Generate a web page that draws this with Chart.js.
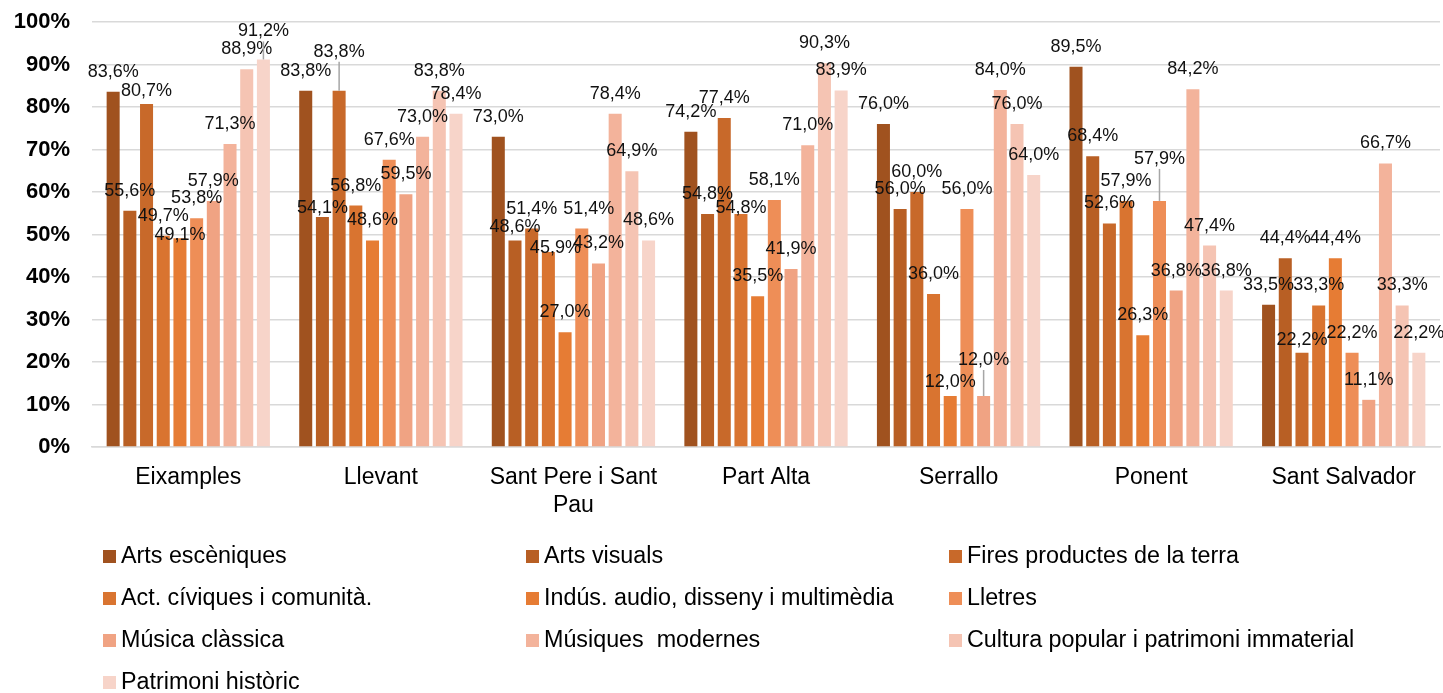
<!DOCTYPE html>
<html>
<head>
<meta charset="utf-8">
<script src="https://cdn.jsdelivr.net/npm/chart.js@4/dist/chart.umd.min.js"></script>
<style>
html,body{margin:0;padding:0;background:#fff;}
#wrap{width:1443px;height:693px;position:relative;}
</style>
</head>
<body>
<div id="wrap"><canvas id="c" width="1443" height="693"></canvas></div>
<script>
const categories = ['Eixamples','Llevant','Sant Pere i Sant Pau','Part Alta','Serrallo','Ponent','Sant Salvador'];
const yTicks = [0,10,20,30,40,50,60,70,80,90,100];
const seriesNames = ['Arts escèniques','Arts visuals','Fires productes de la terra','Act. cíviques i comunità.','Indús. audio, disseny i multimèdia','Lletres','Música clàssica','Músiques  modernes','Cultura popular i patrimoni immaterial','Patrimoni històric'];
const artsEscen  = [83.6,83.8,73.0,74.2,76.0,89.5,33.5];
const artsVisual = [55.6,54.1,48.6,54.8,56.0,68.4,44.4];
const fires      = [80.7,83.8,51.4,77.4,60.0,52.6,22.2];
const actCiv     = [49.7,56.8,45.9,54.8,36.0,57.9,33.3];
const indus      = [49.1,48.6,27.0,35.5,12.0,26.3,44.4];
const lletres    = [53.8,67.6,51.4,58.1,56.0,57.9,22.2];
const musClass   = [57.9,59.5,43.2,41.9,12.0,36.8,11.1];
const musMod     = [71.3,73.0,78.4,71.0,84.0,84.2,66.7];
const cultPop    = [88.9,83.8,64.9,90.3,76.0,47.4,33.3];
const patrimoni  = [91.2,78.4,48.6,83.9,64.0,36.8,22.2];
const seriesValues = [artsEscen,artsVisual,fires,actCiv,indus,lletres,musClass,musMod,cultPop,patrimoni];
const colors = ['#A0521F','#B85F24','#C8692A','#D97430','#E67C34','#EE8E57','#F0A383','#F3B39B','#F5C4B3','#F7D4C9'];

// label nudges: "group,series" -> [dx, dy]
const labelNudges = {
  '0,2':[0,7],'0,4':[0,17],'0,9':[0,-8],
  '1,1':[0,11],'1,2':[0,-19],
  '2,1':[0,7],'2,3':[7,16],'2,5':[7,0],
  '3,3':[0,14],
  '4,4':[0,6],'4,6':[0,-16],
  '5,5':[0,-22],
  '6,2':[0,7]
};

const FONT = "'Liberation Sans', Arial, sans-serif";

function wrapLabel(s){
  if (s.length <= 16) return s;
  const words = s.split(' ');
  const lines = []; let cur = '';
  for (const w of words){
    const t = cur ? cur + ' ' + w : w;
    if (t.length > 16 && cur){ lines.push(cur); cur = w; } else cur = t;
  }
  if (cur) lines.push(cur);
  return lines;
}

const labelPlugin = {
  id:'valLabels',
  afterDatasetsDraw(chart){
    const ctx = chart.ctx;
    ctx.save();
    ctx.font = '18px ' + FONT;
    ctx.fillStyle = '#111';
    ctx.textAlign = 'center';
    ctx.textBaseline = 'middle';
    chart.data.datasets.forEach((ds, si) => {
      const meta = chart.getDatasetMeta(si);
      meta.data.forEach((bar, gi) => {
        const v = ds.data[gi];
        const n = labelNudges[gi + ',' + si] || [0,0];
        const x = bar.x + n[0];
        const y = bar.y - 20 + n[1];
        if (n[1] < -5){
          ctx.strokeStyle = '#a6a6a6';
          ctx.lineWidth = 1.5;
          ctx.beginPath();
          ctx.moveTo(bar.x, y + 10);
          ctx.lineTo(bar.x, bar.y);
          ctx.stroke();
        }
        ctx.fillText(v.toFixed(1).replace('.', ',') + '%', x, y);
      });
    });
    ctx.restore();
  }
};

const legendPlugin = {
  id:'gridLegend',
  afterDraw(chart){
    const ctx = chart.ctx;
    ctx.save();
    ctx.font = '23.3px ' + FONT;
    ctx.textBaseline = 'middle';
    ctx.textAlign = 'left';
    const colX = [103, 526, 949];
    const rowY0 = 556, rowH = 42;
    chart.data.datasets.forEach((ds, i) => {
      const col = i % 3, row = Math.floor(i / 3);
      const x = colX[col], y = rowY0 + row * rowH;
      ctx.fillStyle = ds.backgroundColor;
      ctx.fillRect(x, y - 6, 13, 13);
      ctx.fillStyle = '#000';
      ctx.fillText(ds.label, x + 18, y + 1);
    });
    ctx.restore();
  }
};

new Chart(document.getElementById('c'), {
  type:'bar',
  data:{
    labels: categories.map(wrapLabel),
    datasets: seriesNames.map((name, i) => ({
      label: name,
      data: seriesValues[i],
      backgroundColor: colors[i],
      borderWidth: 0,
      categoryPercentage: 0.867,
      barPercentage: 0.78
    }))
  },
  options:{
    responsive:false,
    animation:false,
    devicePixelRatio:1,
    layout:{padding:{left:0,right:3,top:22,bottom:0}},
    plugins:{legend:{display:false},tooltip:{enabled:false}},
    scales:{
      x:{
        grid:{display:false, drawTicks:false},
        border:{display:true, color:'#d9d9d9', width:1.5},
        ticks:{font:{family:FONT,size:23,lineHeight:1.2},color:'#000',padding:17,maxRotation:0,autoSkip:false},
        afterFit(s){ s.height = 246; s.paddingLeft = 0; s.paddingRight = 0; }
      },
      y:{
        min:0,max:100,
        afterBuildTicks(s){ s.ticks = yTicks.map(v => ({value:v})); },
        grid:{color:'#d9d9d9', lineWidth:1.5, drawTicks:false},
        border:{display:false},
        ticks:{font:{family:FONT,size:22,weight:'bold'},color:'#000',padding:22,callback:v => v + '%'},
        afterFit(s){ s.width = 92; s.paddingTop = 0; s.paddingBottom = 0; }
      }
    }
  },
  plugins:[labelPlugin, legendPlugin]
});
</script>
</body>
</html>
